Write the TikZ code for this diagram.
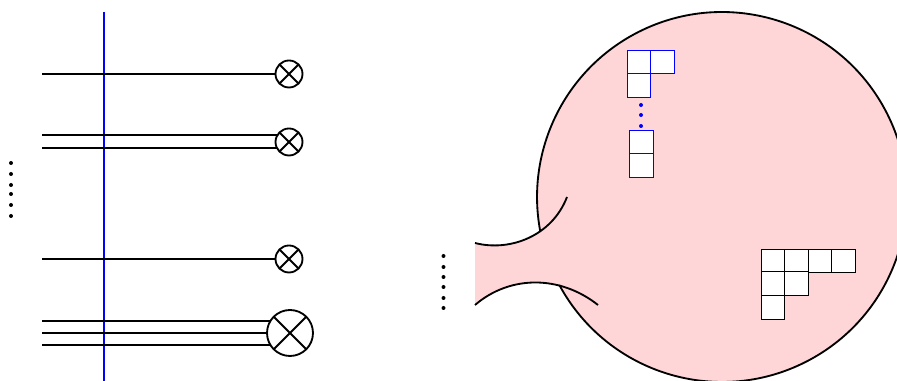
\documentclass[tikz,border=0pt]{standalone}
\usepackage{tikz}
\usetikzlibrary{positioning}
\definecolor{blobpink}{RGB}{255,214,216}

\begin{document}
\begin{tikzpicture}[x=0.02cm, y=0.02cm,
    wire/.style={line width=1.05pt, black},
    cross/.style={circle, draw, line width=1.05pt, inner sep=0pt, minimum size=0.54cm,
                  path picture={\draw[line width=1.05pt] (path picture bounding box.north west) -- (path picture bounding box.south east)
                      (path picture bounding box.south west) -- (path picture bounding box.north east);}},
    bigcross/.style={cross, minimum size=0.92cm},
    cell/.style={rectangle, draw, fill=white, line width=0.5pt, inner sep=0pt, minimum size=0.47cm},
    dotnode/.style={circle, fill, inner sep=0pt, minimum size=0.08cm}]

    \path[use as bounding box] (0,0) rectangle (897,381);
    \clip (0,0) rectangle (897,381);

    % Blue line
    \coordinate (bluetop) at (104,369);
    \coordinate (bluebot) at (104,0);
    \draw[blue, line width=1.05pt] (bluetop) -- (bluebot);

    % Crossed circles
    \node[cross] (x1) at (289,307) {};
    \node[cross] (x2) at (289,239) {};
    \node[cross] (x3) at (289,122) {};
    \node[bigcross] (x4) at (290,48) {};

    % Line ends
    \coordinate (s1) at (42,307);
    \coordinate (s2a) at (42,246);
    \coordinate (s2b) at (42,233);
    \coordinate (s3) at (42,122);
    \coordinate (s4a) at (42,60);
    \coordinate (s4b) at (42,48);
    \coordinate (s4c) at (42,36);

    % Wires
    \draw[wire] (s1) -- (x1);
    \draw[wire] (s2a) -- (s2a -| x2.147);
    \draw[wire] (s2b) -- (s2b -| x2.213);
    \draw[wire] (s3) -- (x3);
    \draw[wire] (s4a) -- (s4a -| x4.149);
    \draw[wire] (s4b) -- (x4);
    \draw[wire] (s4c) -- (s4c -| x4.211);

    % Left dots
    \foreach \i/\y in {1/218, 2/207, 3/196, 4/187, 5/176, 6/165}
        \node[dotnode] (ld\i) at (11,\y) {};

    % Pink blob
    \fill[blobpink] (722,184) circle (3.7cm);
    \fill[blobpink] (475,138) .. controls (510,129) and (552,145) .. (567,184)
        -- (598,76) .. controls (560,106) and (510,106) .. (475,76) -- cycle;
    \draw[wire] (722,184) ++(208.4:3.7cm) arc[start angle=208.4, end angle=550.8, radius=3.7cm];
    \draw[wire] (475,138) .. controls (510,129) and (552,145) .. (567,184);
    \draw[wire] (475,76) .. controls (510,106) and (560,106) .. (598,76);

    % Middle dots
    \foreach \i/\y in {1/125, 2/114, 3/104, 4/94, 5/83, 6/73}
        \node[dotnode] (md\i) at (443.5,\y) {};

    % Blue diagrams
    \foreach \n/\x/\y in {a/638.75/319.25, b/662.25/319.25, c/638.75/295.75, d/641.5/238.5, e/641.5/215.5}
        \node[cell, draw=blue] (\n) at (\x,\y) {};
    \foreach \i/\y in {1/276, 2/266, 3/255}
        \node[dotnode, fill=blue] (bd\i) at (641,\y) {};

    % Black diagram
    \foreach \n/\x/\y in {p/772.75/120.25, q/796.25/120.25, r/819.75/120.25, s/843.25/120.25,
                          t/772.75/97.75, u/796.25/97.75, v/772.75/73.75}
        \node[cell] (\n) at (\x,\y) {};
\end{tikzpicture}
\end{document}
